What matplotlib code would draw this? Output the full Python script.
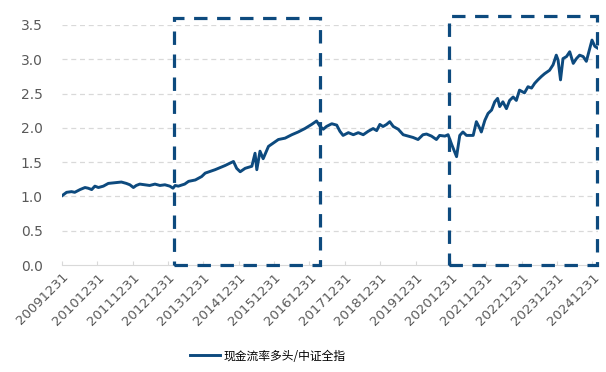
import matplotlib.pyplot as plt
from matplotlib.patches import Rectangle

# decimal year (2010.0 == 20091231) and ratio values
t = [2010.00, 2010.13, 2010.27, 2010.36, 2010.51, 2010.65, 2010.74, 2010.84, 2010.93, 2011.03,
     2011.17, 2011.31, 2011.50, 2011.68, 2011.82, 2011.92, 2012.02, 2012.10, 2012.20, 2012.34,
     2012.48, 2012.63, 2012.77, 2012.91, 2013.05, 2013.14, 2013.20, 2013.29, 2013.47, 2013.58,
     2013.77, 2013.95, 2014.05, 2014.33, 2014.61, 2014.85, 2014.94, 2015.04, 2015.18, 2015.37,
     2015.46, 2015.51, 2015.60, 2015.69, 2015.84, 2015.98, 2016.12, 2016.31, 2016.50, 2016.68,
     2016.87, 2017.06, 2017.20, 2017.30, 2017.39, 2017.48, 2017.63, 2017.77, 2017.86, 2017.95,
     2018.10, 2018.24, 2018.38, 2018.52, 2018.66, 2018.80, 2018.90, 2018.99, 2019.08, 2019.18,
     2019.27, 2019.37, 2019.51, 2019.65, 2019.79, 2019.93, 2020.07, 2020.21, 2020.31, 2020.45,
     2020.59, 2020.68, 2020.83, 2020.92, 2021.02, 2021.16, 2021.25, 2021.34, 2021.44, 2021.53,
     2021.63, 2021.72, 2021.82, 2021.86, 2021.96, 2022.05, 2022.15, 2022.24, 2022.32, 2022.38,
     2022.47, 2022.57, 2022.66, 2022.76, 2022.85, 2022.94, 2023.08, 2023.18, 2023.28, 2023.37,
     2023.46, 2023.56, 2023.65, 2023.79, 2023.89, 2023.98, 2024.03, 2024.10, 2024.17, 2024.27,
     2024.36, 2024.46, 2024.55, 2024.64, 2024.74, 2024.83, 2024.93, 2024.99, 2025.07, 2025.16]
ratio = [1.01, 1.06, 1.07, 1.06, 1.10, 1.13, 1.12, 1.10, 1.15, 1.13,
         1.15, 1.19, 1.20, 1.21, 1.19, 1.17, 1.13, 1.16, 1.18, 1.17,
         1.16, 1.18, 1.16, 1.17, 1.15, 1.12, 1.16, 1.15, 1.18, 1.22,
         1.24, 1.29, 1.34, 1.39, 1.45, 1.51, 1.41, 1.36, 1.41, 1.44,
         1.63, 1.39, 1.66, 1.55, 1.73, 1.78, 1.83, 1.85, 1.90, 1.94,
         1.99, 2.05, 2.10, 2.02, 1.98, 2.02, 2.06, 2.04, 1.95, 1.89,
         1.93, 1.90, 1.93, 1.90, 1.95, 1.99, 1.96, 2.05, 2.02, 2.05,
         2.09, 2.02, 1.98, 1.90, 1.88, 1.86, 1.83, 1.90, 1.91, 1.88,
         1.83, 1.89, 1.88, 1.90, 1.76, 1.58, 1.89, 1.94, 1.89, 1.89,
         1.89, 2.09, 1.99, 1.94, 2.11, 2.21, 2.26, 2.38, 2.43, 2.31,
         2.38, 2.28, 2.40, 2.45, 2.40, 2.55, 2.51, 2.60, 2.58, 2.65,
         2.70, 2.75, 2.79, 2.84, 2.92, 3.06, 2.99, 2.70, 3.01, 3.04,
         3.11, 2.94, 3.01, 3.06, 3.04, 2.97, 3.16, 3.28, 3.19, 3.16]

tick_years = list(range(2010, 2026))
tick_labels = [f"{y - 1}1231" for y in tick_years]

# highlighted periods (start, end) in decimal years, box height
boxes = [(2013.17, 2017.30, 3.60), (2020.95, 2025.12, 3.63)]

blue = '#0d4a7e'
grey = '#595959'

fig = plt.figure(figsize=(6.06, 3.72), dpi=100)
ax = fig.add_axes([0.1023, 0.2876, 0.8845, 0.6452])

ax.plot(t, ratio, color=blue, lw=2.1, label='现金流率多头/中证全指')

for x0, x1, top in boxes:
    ax.add_patch(Rectangle((x0, 0), x1 - x0, top, fill=False, ec=blue, lw=2.3,
                           ls=(0, (4.2, 3.0)), clip_on=False, zorder=5))

ax.set_xlim(2010.0, 2025.16)
ax.set_ylim(0, 3.5)
yt = [0, 0.5, 1.0, 1.5, 2.0, 2.5, 3.0, 3.5]
ax.set_yticks(yt)
ax.set_yticklabels([f"{v:.1f}" for v in yt])
ax.set_xticks(tick_years)
ax.set_xticklabels(tick_labels, rotation=45, ha='right', rotation_mode='anchor')

for y in yt[1:]:
    ax.axhline(y, color='#d9d9d9', lw=0.9, ls=(0, (4, 3)), zorder=0)

for s in ['top', 'right', 'left']:
    ax.spines[s].set_visible(False)
ax.spines['bottom'].set_color('#d9d9d9')
ax.tick_params(axis='y', length=0, labelsize=10, labelcolor=grey, pad=14)
ax.tick_params(axis='x', length=3, direction='in', color='#d9d9d9', labelsize=9.5,
               labelcolor=grey, pad=4)

fig.legend(loc='center', bbox_to_anchor=(0.442, 0.043), frameon=False,
           prop={'family': ['Noto Sans CJK SC', 'DejaVu Sans'], 'size': 8.5},
           handlelength=2.6, handletextpad=0.3)

fig.savefig('out.png', dpi=100)
